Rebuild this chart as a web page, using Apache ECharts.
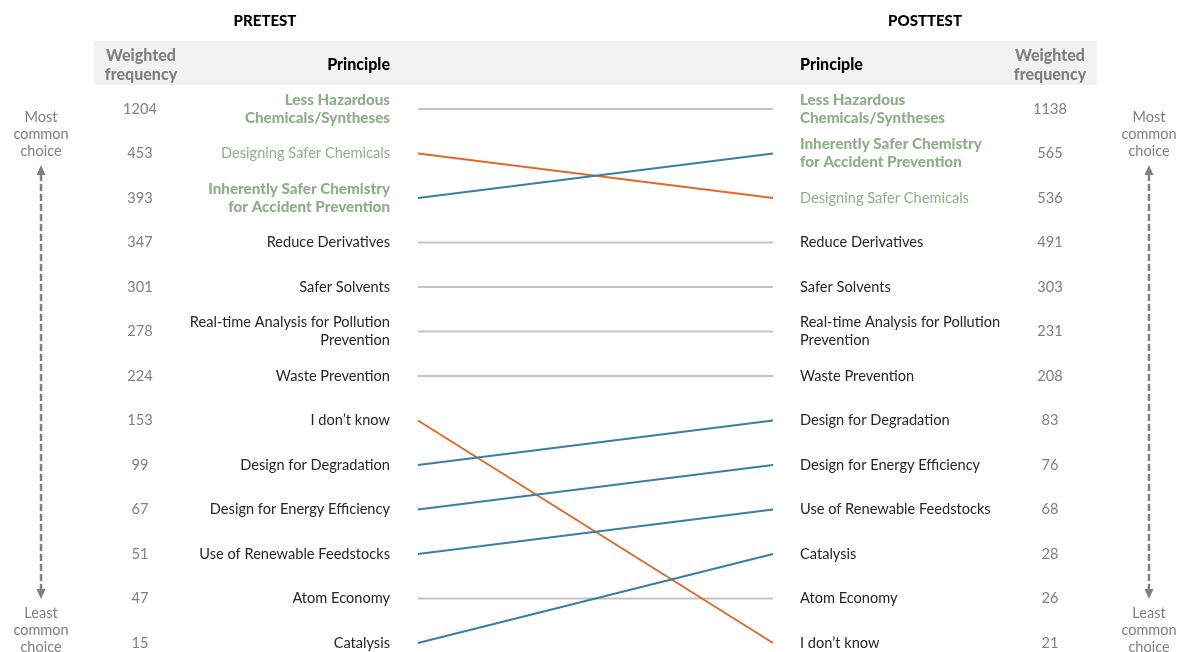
<!DOCTYPE html>
<html><head><meta charset="utf-8">
<script src="https://cdn.jsdelivr.net/npm/echarts@6/dist/echarts.min.js"></script>
<style>html,body{margin:0;padding:0;background:#fff}#c{width:1180px;height:652px}</style>
</head><body><div id="c"></div>
<script>
// Pretest ranking (most -> least common)
var preLabels = ['Less Hazardous\nChemicals/Syntheses','Designing Safer Chemicals','Inherently Safer Chemistry\nfor Accident Prevention','Reduce Derivatives','Safer Solvents','Real-time Analysis for Pollution\nPrevention','Waste Prevention',"I don\u2019t know",'Design for Degradation','Design for Energy Efficiency','Use of Renewable Feedstocks','Atom Economy','Catalysis'];
var preValues = [1204,453,393,347,301,278,224,153,99,67,51,47,15];
// Posttest ranking
var postLabels = ['Less Hazardous\nChemicals/Syntheses','Inherently Safer Chemistry\nfor Accident Prevention','Designing Safer Chemicals','Reduce Derivatives','Safer Solvents','Real-time Analysis for Pollution\nPrevention','Waste Prevention','Design for Degradation','Design for Energy Efficiency','Use of Renewable Feedstocks','Catalysis','Atom Economy',"I don\u2019t know"];
var postValues = [1138,565,536,491,303,231,208,83,76,68,28,26,21];
var boldGreen = ['Less Hazardous\nChemicals/Syntheses','Inherently Safer Chemistry\nfor Accident Prevention'];
var plainGreen = ['Designing Safer Chemicals'];

var FONT = 'Lato';
var C_UP = '#3b7ea1', C_DOWN = '#e0692a', C_SAME = '#c4c4c4';
var GREY = '#808080', DARK = '#262626', GREEN = '#8fae8a';

function fmtLabel(v){
  if (boldGreen.indexOf(v) >= 0) return v.split('\n').map(function(s){return '{bg|'+s+'}';}).join('\n');
  if (plainGreen.indexOf(v) >= 0) return '{g|'+v+'}';
  return v.split('\n').map(function(s){return '{n|'+s+'}';}).join('\n');
}
var rich = {
  bg:{fontFamily:FONT,fontSize:15.2,fontWeight:900,color:GREEN,lineHeight:18},
  g:{fontFamily:FONT,fontSize:14.6,color:GREEN,lineHeight:18},
  n:{fontFamily:FONT,fontSize:14.6,color:DARK,lineHeight:18}
};

var series = preLabels.map(function(name, i){
  var j = postLabels.indexOf(name);
  var col = j < i ? C_UP : (j > i ? C_DOWN : C_SAME);
  return {type:'line', xAxisIndex:0, yAxisIndex:0, data:[[0,i],[1,j]], symbol:'none', silent:true,
    lineStyle:{color:col,width:2}, z: col===C_SAME?1:2, animation:false};
});

function catAxis(pos, data, offset, margin, align, fmt, textStyle){
  return {type:'category', position:pos, inverse:true, boundaryGap:false, data:data, offset:offset,
    axisLine:{show:false}, axisTick:{show:false}, splitLine:{show:false},
    axisLabel:Object.assign({margin:margin, align:align, formatter:fmt, interval:0}, textStyle)};
}

function sideNote(cx){
  var g = [];
  g.push({type:'text', x:cx, y:134, style:{text:'Most\ncommon\nchoice', align:'center', verticalAlign:'middle', fill:GREY, font:'14.5px '+FONT, lineHeight:17}, z:10});
  g.push({type:'text', x:cx, y:630, style:{text:'Least\ncommon\nchoice', align:'center', verticalAlign:'middle', fill:GREY, font:'14.5px '+FONT, lineHeight:17}, z:10});
  g.push({type:'line', shape:{x1:cx,y1:174,x2:cx,y2:590}, style:{stroke:GREY,lineWidth:2.5,lineDash:[7,3]}});
  g.push({type:'polygon', shape:{points:[[cx-4.5,175],[cx+4.5,175],[cx,165]]}, style:{fill:GREY}});
  g.push({type:'polygon', shape:{points:[[cx-4.5,589],[cx+4.5,589],[cx,599]]}, style:{fill:GREY}});
  return g;
}

var graphics = [
  {type:'rect', shape:{x:94,y:41,width:1003,height:44}, style:{fill:'#f2f2f2'}, z:-1},
  {type:'text', x:265, y:21, style:{text:'PRETEST', align:'center', verticalAlign:'middle', fill:'#000', font:'900 15px '+FONT}},
  {type:'text', x:925, y:21, style:{text:'POSTTEST', align:'center', verticalAlign:'middle', fill:'#000', font:'900 15px '+FONT}},
  {type:'text', x:141, y:65, style:{text:'Weighted\nfrequency', align:'center', verticalAlign:'middle', fill:GREY, font:'900 16px '+FONT, lineHeight:19}},
  {type:'text', x:1050, y:65, style:{text:'Weighted\nfrequency', align:'center', verticalAlign:'middle', fill:GREY, font:'900 16px '+FONT, lineHeight:19}},
  {type:'text', x:390, y:65, style:{text:'Principle', align:'right', verticalAlign:'middle', fill:'#000', font:'900 16px '+FONT}},
  {type:'text', x:800, y:65, style:{text:'Principle', align:'left', verticalAlign:'middle', fill:'#000', font:'900 16px '+FONT}}
].concat(sideNote(41)).concat(sideNote(1149));

var numStyle = {fontFamily:FONT, fontSize:14.6, color:GREY};
var option = {
  animation:false,
  grid:{left:418, right:407, top:109, bottom:9},
  xAxis:[{type:'value', min:0, max:1, show:false}],
  yAxis:[
    catAxis('left', preLabels, 0, 28, 'right', fmtLabel, {rich:rich}),
    catAxis('left', preValues.map(String), 278, 0, 'center', null, numStyle),
    catAxis('right', postLabels, 0, 27, 'left', fmtLabel, {rich:rich}),
    catAxis('right', postValues.map(String), 277, 0, 'center', null, numStyle)
  ],
  graphic:graphics,
  series:series
};
var chart = echarts.init(document.getElementById('c'));
chart.setOption(option);
</script>
</body></html>
